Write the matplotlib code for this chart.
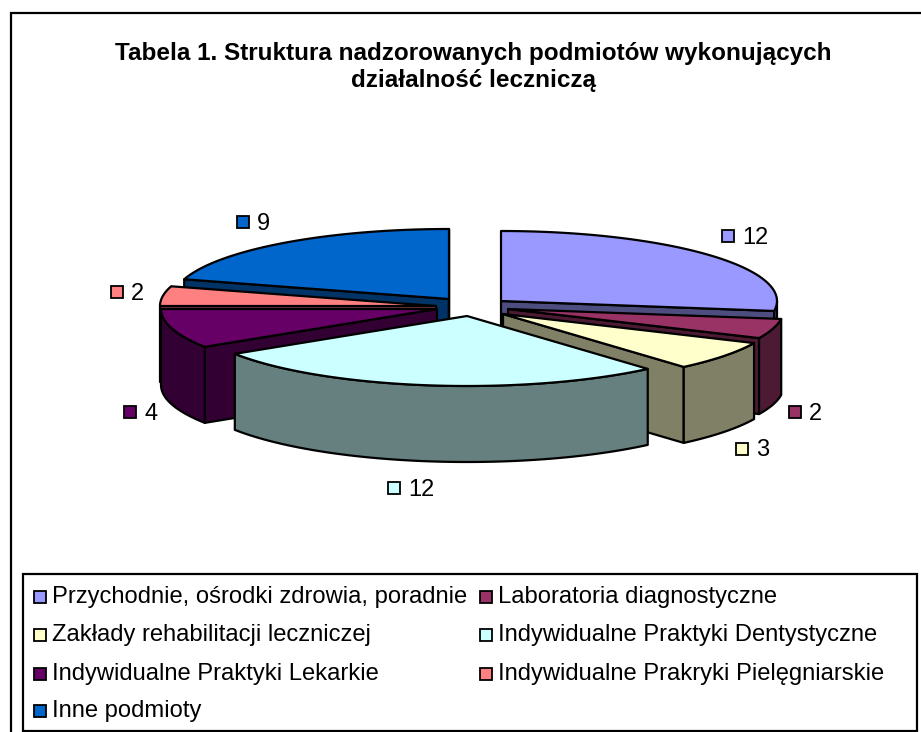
import matplotlib
matplotlib.use('Agg')
import matplotlib.pyplot as plt
import numpy as np
from matplotlib.patches import Polygon, Rectangle

plt.rcParams['font.family'] = ['Liberation Sans', 'DejaVu Sans']

title = 'Tabela 1. Struktura nadzorowanych podmiotów wykonujących\ndziałalność leczniczą'
categories = ['Przychodnie, ośrodki zdrowia, poradnie', 'Laboratoria diagnostyczne',
              'Zakłady rehabilitacji leczniczej', 'Indywidualne Praktyki Dentystyczne',
              'Indywidualne Praktyki Lekarkie', 'Indywidualne Prakryki Pielęgniarskie',
              'Inne podmioty']
values = [12, 2, 3, 12, 4, 2, 9]

top_colors = ['#9999FF', '#993366', '#FFFFCC', '#CCFFFF', '#660066', '#FF8080', '#0066CC']
side_colors = ['#4D4D80', '#4D1A33', '#808066', '#668080', '#330033', '#804040', '#003366']

# pixel layout of the picture
apexes = [(501, 301), (508, 309), (503, 314), (467, 316), (437, 309), (436, 306), (449, 299)]
label_keys = [(728, 236), (795, 412), (742, 449), (394, 488), (130, 412), (117, 292), (243, 222)]
draw_order = [6, 5, 4, 0, 1, 2, 3]
legend_keys = [(40, 597), (486, 597), (40, 635), (486, 635), (40, 674), (486, 674), (40, 711)]
RX, RY, DEPTH = 276, 70, 76

edges = np.concatenate([[0], np.cumsum(values)]) * 360.0 / sum(values)


def rim(apex, a0, a1):
    t = np.radians(np.linspace(a0, a1, 60))
    return np.column_stack([apex[0] + RX * np.sin(t), apex[1] - RY * np.cos(t)])


def side(pts, ax, color):
    pts = np.asarray(pts, dtype=float)
    low = pts + [0, DEPTH]
    ax.add_patch(Polygon(np.vstack([pts, low[::-1]]), closed=True, fc=color, ec='black', lw=1.6, joinstyle='round'))


fig = plt.figure(figsize=(9.21, 7.32), dpi=100)
ax = fig.add_axes([0, 0, 1, 1])
ax.set_xlim(0, 921)
ax.set_ylim(732, 0)
ax.axis('off')

# outer frame runs past the right and bottom of the picture
ax.add_patch(Rectangle((10.5, 13), 930, 740, fc='white', ec='black', lw=1.6))
ax.text(473, 67, title, ha='center', va='center', fontsize=17.5, fontweight='bold', linespacing=1.22)

for i in draw_order:
    apex, a0, a1 = apexes[i], edges[i], edges[i + 1]
    # radial wall that faces the viewer
    if a1 <= 180:
        side([apex, rim(apex, a1, a1)[0]], ax, side_colors[i])
    if a0 >= 180:
        side([apex, rim(apex, a0, a0)[0]], ax, side_colors[i])
    if a1 == 360:
        side([apex, rim(apex, 0, 0)[0]], ax, side_colors[i])
    # outer wall, only the front half of the ellipse shows
    lo, hi = max(a0, 90), min(a1, 270)
    if hi > lo:
        side(rim(apex, lo, hi), ax, side_colors[i])
    ax.add_patch(Polygon(np.vstack([[apex], rim(apex, a0, a1)]), closed=True, fc=top_colors[i],
                         ec='black', lw=1.6, joinstyle='round'))

for (x, y), v, c in zip(label_keys, values, top_colors):
    ax.add_patch(Rectangle((x - 6, y - 6), 12, 12, fc=c, ec='black', lw=1.3))
    ax.text(x + 14, y + 1.5, str(v), ha='left', va='center', fontsize=17)

ax.add_patch(Rectangle((22.5, 574), 894.5, 157, fc='white', ec='black', lw=1.6))
for (x, y), name, c in zip(legend_keys, categories, top_colors):
    ax.add_patch(Rectangle((x - 6, y - 6), 12, 12, fc=c, ec='black', lw=1.3))
    ax.text(x + 12, y, name, ha='left', va='center', fontsize=17.1)

fig.savefig('out.png', dpi=100)
